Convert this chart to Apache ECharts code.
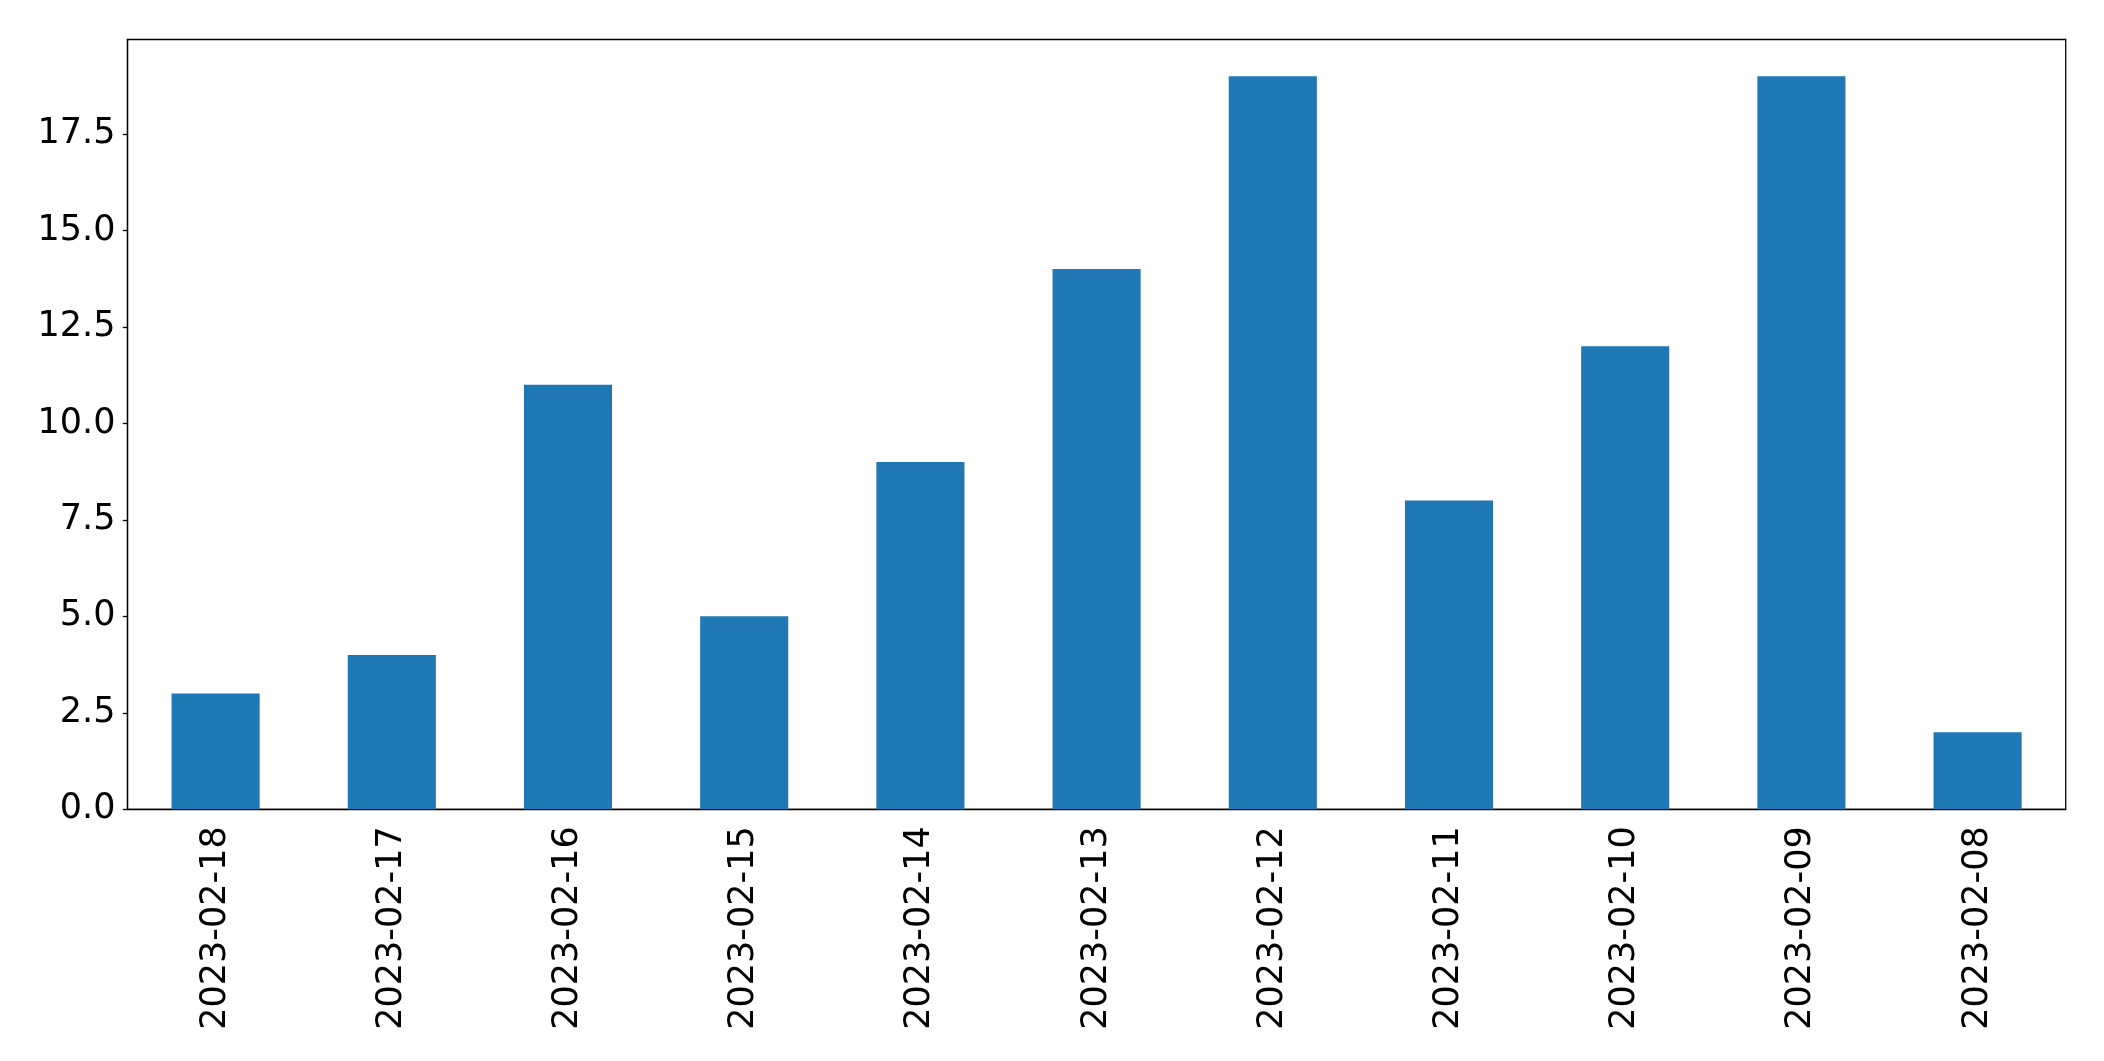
<!DOCTYPE html>
<html>
<head>
<meta charset="utf-8">
<script src="https://cdn.jsdelivr.net/npm/echarts@6/dist/echarts.min.js"></script>
<style>html,body{margin:0;padding:0;background:#fff;}#c{width:2104px;height:1061px;}</style>
</head>
<body>
<div id="c"></div>
<script>
const categories = ["2023-02-18","2023-02-17","2023-02-16","2023-02-15","2023-02-14","2023-02-13","2023-02-12","2023-02-11","2023-02-10","2023-02-09","2023-02-08"];
const values = [3,4,11,5,9,14,19,8,12,19,2];
const yTicks = [0,2.5,5,7.5,10,12.5,15,17.5];
const yTickLabels = ["0.0","2.5","5.0","7.5","10.0","12.5","15.0","17.5"];

const chart = echarts.init(document.getElementById('c'), null, {renderer:'canvas'});
const font = 'DejaVu Sans';
chart.setOption({
  animation:false,
  backgroundColor:'#fff',
  grid:{left:127.5, top:39.5, right:38.3, bottom:251.7, show:true, borderColor:'#000', borderWidth:1.3, backgroundColor:'transparent'},
  xAxis:{
    type:'category', data:categories,
    axisLine:{lineStyle:{color:'#000', width:1.3}},
    axisTick:{alignWithLabel:true, length:4.7, lineStyle:{color:'#000', width:1.3}},
    axisLabel:{rotate:90, margin:17, color:'#000', fontFamily:font, fontSize:35, interval:0}
  },
  yAxis:{
    type:'value', min:0, max:19.95,
    axisLine:{show:true, lineStyle:{color:'#000', width:1.3}},
    splitLine:{show:false},
    axisTick:{show:true, length:4.7, customValues:yTicks, lineStyle:{color:'#000', width:1.3}},
    axisLabel:{customValues:yTicks, margin:12, color:'#000', fontFamily:font, fontSize:35,
      formatter:function(v){ const i = yTicks.indexOf(v); return i>=0 ? yTickLabels[i] : ''; }}
  },
  series:[{type:'bar', data:values, barWidth:'50%', itemStyle:{color:'#1f77b4'}}]
});
</script>
</body>
</html>
